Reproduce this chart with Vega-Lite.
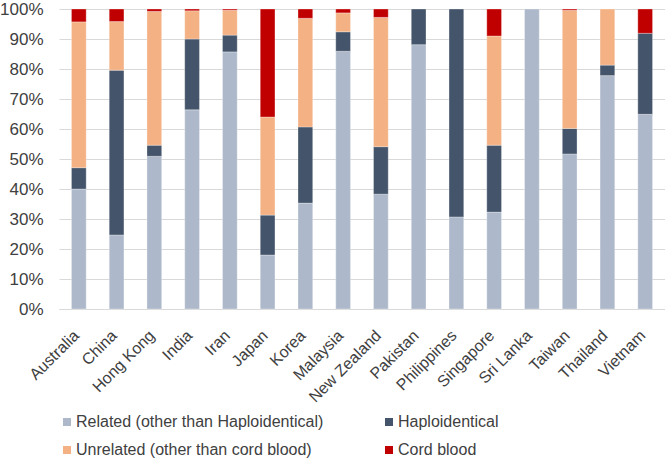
{
  "$schema": "https://vega.github.io/schema/vega-lite/v6.json",
  "width": 606,
  "height": 300,
  "autosize": {"type": "none"},
  "padding": {"left": 59, "top": 9, "right": 0, "bottom": 151},
  "background": "white",
  "config": {"view": {"stroke": null}, "font": "Liberation Sans"},
  "data": {
    "values": [
      {"country": "Australia", "type": "Related (other than Haploidentical)", "value": 40},
      {"country": "Australia", "type": "Haploidentical", "value": 7.1},
      {"country": "Australia", "type": "Unrelated (other than cord blood)", "value": 48.6},
      {"country": "Australia", "type": "Cord blood", "value": 4.3},
      {"country": "China", "type": "Related (other than Haploidentical)", "value": 24.7},
      {"country": "China", "type": "Haploidentical", "value": 54.9},
      {"country": "China", "type": "Unrelated (other than cord blood)", "value": 16.2},
      {"country": "China", "type": "Cord blood", "value": 4.2},
      {"country": "Hong Kong", "type": "Related (other than Haploidentical)", "value": 50.9},
      {"country": "Hong Kong", "type": "Haploidentical", "value": 3.7},
      {"country": "Hong Kong", "type": "Unrelated (other than cord blood)", "value": 44.6},
      {"country": "Hong Kong", "type": "Cord blood", "value": 0.8},
      {"country": "India", "type": "Related (other than Haploidentical)", "value": 66.4},
      {"country": "India", "type": "Haploidentical", "value": 23.6},
      {"country": "India", "type": "Unrelated (other than cord blood)", "value": 9.4},
      {"country": "India", "type": "Cord blood", "value": 0.6},
      {"country": "Iran", "type": "Related (other than Haploidentical)", "value": 85.7},
      {"country": "Iran", "type": "Haploidentical", "value": 5.6},
      {"country": "Iran", "type": "Unrelated (other than cord blood)", "value": 8.3},
      {"country": "Iran", "type": "Cord blood", "value": 0.4},
      {"country": "Japan", "type": "Related (other than Haploidentical)", "value": 18},
      {"country": "Japan", "type": "Haploidentical", "value": 13.3},
      {"country": "Japan", "type": "Unrelated (other than cord blood)", "value": 32.7},
      {"country": "Japan", "type": "Cord blood", "value": 36},
      {"country": "Korea", "type": "Related (other than Haploidentical)", "value": 35.3},
      {"country": "Korea", "type": "Haploidentical", "value": 25.4},
      {"country": "Korea", "type": "Unrelated (other than cord blood)", "value": 36.2},
      {"country": "Korea", "type": "Cord blood", "value": 3.1},
      {"country": "Malaysia", "type": "Related (other than Haploidentical)", "value": 85.9},
      {"country": "Malaysia", "type": "Haploidentical", "value": 6.5},
      {"country": "Malaysia", "type": "Unrelated (other than cord blood)", "value": 6.3},
      {"country": "Malaysia", "type": "Cord blood", "value": 1.3},
      {"country": "New Zealand", "type": "Related (other than Haploidentical)", "value": 38.3},
      {"country": "New Zealand", "type": "Haploidentical", "value": 15.8},
      {"country": "New Zealand", "type": "Unrelated (other than cord blood)", "value": 43.1},
      {"country": "New Zealand", "type": "Cord blood", "value": 2.8},
      {"country": "Pakistan", "type": "Related (other than Haploidentical)", "value": 88.1},
      {"country": "Pakistan", "type": "Haploidentical", "value": 11.9},
      {"country": "Philippines", "type": "Related (other than Haploidentical)", "value": 30.7},
      {"country": "Philippines", "type": "Haploidentical", "value": 69.3},
      {"country": "Singapore", "type": "Related (other than Haploidentical)", "value": 32.3},
      {"country": "Singapore", "type": "Haploidentical", "value": 22.3},
      {"country": "Singapore", "type": "Unrelated (other than cord blood)", "value": 36.4},
      {"country": "Singapore", "type": "Cord blood", "value": 9},
      {"country": "Sri Lanka", "type": "Related (other than Haploidentical)", "value": 100},
      {"country": "Taiwan", "type": "Related (other than Haploidentical)", "value": 51.7},
      {"country": "Taiwan", "type": "Haploidentical", "value": 8.5},
      {"country": "Taiwan", "type": "Unrelated (other than cord blood)", "value": 39.4},
      {"country": "Taiwan", "type": "Cord blood", "value": 0.4},
      {"country": "Thailand", "type": "Related (other than Haploidentical)", "value": 77.8},
      {"country": "Thailand", "type": "Haploidentical", "value": 3.5},
      {"country": "Thailand", "type": "Unrelated (other than cord blood)", "value": 18.7},
      {"country": "Vietnam", "type": "Related (other than Haploidentical)", "value": 64.9},
      {"country": "Vietnam", "type": "Haploidentical", "value": 27},
      {"country": "Vietnam", "type": "Cord blood", "value": 8.1}
    ]
  },
  "transform": [
    {"calculate": "indexof(['Related (other than Haploidentical)', 'Haploidentical', 'Unrelated (other than cord blood)', 'Cord blood'], datum.type)", "as": "rank"}
  ],
  "mark": {"type": "bar", "stroke": "white", "strokeWidth": 0.5, "strokeOpacity": 0.6},
  "encoding": {
    "x": {
      "field": "country",
      "type": "nominal",
      "sort": null,
      "title": null,
      "scale": {"paddingInner": 0.61, "paddingOuter": 0.33},
      "axis": {"labelAngle": -45, "labelAlign": "right", "labelBaseline": "top", "labelFontSize": 16, "labelColor": "#404040", "ticks": false, "domainColor": "#d9d9d9", "labelPadding": 18, "labelOffset": -8}
    },
    "y": {
      "field": "value",
      "type": "quantitative",
      "stack": true,
      "title": null,
      "scale": {"domain": [0, 100]},
      "axis": {
        "values": [0, 10, 20, 30, 40, 50, 60, 70, 80, 90, 100],
        "labelExpr": "datum.value + '%'",
        "labelFontSize": 17,
        "labelColor": "#404040",
        "gridColor": "#d9d9d9",
        "domain": false,
        "ticks": false,
        "labelPadding": 16
      }
    },
    "order": {"field": "rank", "type": "quantitative"},
    "color": {
      "field": "type",
      "type": "nominal",
      "scale": {
        "domain": ["Related (other than Haploidentical)", "Haploidentical", "Unrelated (other than cord blood)", "Cord blood"],
        "range": ["#adb9ca", "#44546a", "#f4b183", "#c00000"]
      },
      "legend": {
        "title": null,
        "orient": "none",
        "legendX": 0,
        "legendY": 405,
        "direction": "horizontal",
        "columns": 2,
        "symbolType": "square",
        "symbolSize": 64,
        "symbolStrokeWidth": 0,
        "labelFontSize": 16,
        "labelColor": "#404040",
        "labelLimit": 400,
        "labelOffset": 1,
        "columnPadding": 57,
        "rowPadding": 12
      }
    }
  }
}
